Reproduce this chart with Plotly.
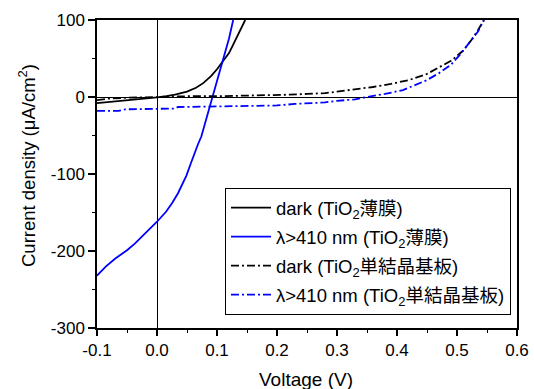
import plotly.graph_objects as go

# Data
v_dark_film = [-0.1, -0.07, -0.04, -0.02, 0.0, 0.016, 0.03, 0.05, 0.065, 0.077, 0.09, 0.1, 0.11, 0.12, 0.127, 0.137, 0.147]
j_dark_film = [-8, -6, -3.5, -2, -0.5, 1, 3, 7, 12, 18, 27, 36, 46, 57, 68, 83, 100]

v_light_film = [-0.1, -0.085, -0.07, -0.05, -0.037, -0.02, 0.0, 0.015, 0.025, 0.035, 0.042, 0.049, 0.056, 0.062, 0.068, 0.074, 0.084, 0.093, 0.1, 0.11, 0.12, 0.127]
j_light_film = [-232, -220, -210, -199, -190.5, -178, -162, -149, -138, -125, -114, -102, -87, -74, -62, -51, -24, 0, 19, 46, 76, 100]

v_dark_xtal = [-0.1, -0.08, -0.05, 0.0, 0.05, 0.1, 0.15, 0.2, 0.22, 0.25, 0.28, 0.3, 0.33, 0.36, 0.39, 0.42, 0.45, 0.47, 0.49, 0.51, 0.525, 0.535, 0.545]
j_dark_xtal = [-4, -2, -1, 0, 1, 1, 1.5, 2, 3, 4, 5, 7, 10, 13, 17, 22, 30, 38, 47, 60, 75, 87, 100]

v_light_xtal = [-0.1, -0.064, -0.053, -0.03, 0.0, 0.029, 0.035, 0.1, 0.15, 0.2, 0.23, 0.26, 0.28, 0.3, 0.33, 0.35, 0.38, 0.41, 0.43, 0.45, 0.47, 0.49, 0.505, 0.52, 0.535, 0.545]
j_light_xtal = [-18, -18, -16, -15.5, -15, -15, -13, -12.5, -12, -11, -9, -7.5, -7, -5, -3, 0, 4, 9, 15, 22, 31, 42, 55, 70, 85, 100]

names = ["dark (TiO<sub>2</sub>薄膜)", "λ>410 nm (TiO<sub>2</sub>薄膜)",
         "dark (TiO<sub>2</sub>単結晶基板)", "λ>410 nm (TiO<sub>2</sub>単結晶基板)"]

x_ticks = [-0.1, 0.0, 0.1, 0.2, 0.3, 0.4, 0.5, 0.6]
x_ticktext = ["-0.1", "0.0", "0.1", "0.2", "0.3", "0.4", "0.5", "0.6"]
y_ticks = [-300, -200, -100, 0, 100]
y_ticktext = ["-300", "-200", "-100", "0", "100"]

x_title = "Voltage (V)"
y_title = "Current density (μA/cm<sup>2</sup>)"

FONT = "Arial, 'Liberation Sans', 'Noto Sans CJK JP', sans-serif"
DASHDOT = "8px,3px,2px,3px"

fig = go.Figure()
fig.add_trace(go.Scatter(x=v_dark_film, y=j_dark_film, mode="lines", name=names[0], legendgroup="a",
                         line=dict(color="black", width=1.8)))
fig.add_trace(go.Scatter(x=v_light_film, y=j_light_film, mode="lines", name=names[1], legendgroup="b",
                         line=dict(color="#0000ff", width=1.8)))
fig.add_trace(go.Scatter(x=v_dark_xtal, y=j_dark_xtal, mode="lines", name=names[2], legendgroup="c",
                         line=dict(color="black", width=1.8, dash=DASHDOT)))
fig.add_trace(go.Scatter(x=v_light_xtal, y=j_light_xtal, mode="lines", name=names[3], legendgroup="d",
                         line=dict(color="#0000ff", width=1.8, dash=DASHDOT)))

axis_common = dict(showline=True, linecolor="black", linewidth=1.5, mirror=True,
                   ticks="outside", tickwidth=1.5, tickcolor="black",
                   showgrid=False, zeroline=True, zerolinecolor="black", zerolinewidth=1,
                   automargin=False, tickfont=dict(size=17))

fig.update_layout(
    width=534, height=389,
    margin=dict(l=97, r=17, t=20, b=61),
    paper_bgcolor="white", plot_bgcolor="white",
    font=dict(family=FONT, size=16, color="black"),
    showlegend=True,
    legend=dict(x=(225 - 97) / 420, y=(328 - 188) / 308, xanchor="left", yanchor="top",
                bordercolor="black", borderwidth=1, bgcolor="white",
                font=dict(size=18.5), tracegroupgap=2, itemwidth=40),
    xaxis=dict(range=[-0.1, 0.6], tickvals=x_ticks, ticktext=x_ticktext, ticklen=6,
               minor=dict(dtick=0.05, tick0=0, ticks="outside", ticklen=3.5, tickwidth=1.2, tickcolor="black"),
               **axis_common),
    yaxis=dict(range=[-300, 100], tickvals=y_ticks, ticktext=y_ticktext, ticklen=7,
               minor=dict(dtick=50, tick0=0, ticks="outside", ticklen=3, tickwidth=1.2, tickcolor="black"),
               **axis_common),
    annotations=[
        dict(text=x_title, xref="paper", yref="paper", x=(306 - 97) / 420, y=-(379 - 328) / 308,
             xanchor="center", yanchor="middle", showarrow=False, font=dict(size=19)),
        dict(text=y_title, xref="paper", yref="paper", x=-(97 - 27) / 420, y=(328 - 166) / 308,
             xanchor="center", yanchor="middle", showarrow=False, textangle=-90, font=dict(size=18.5)),
    ],
)

fig.write_html("out.html", config={"displayModeBar": False},
               post_script="document.body.style.margin='0';document.body.style.overflow='hidden';")
